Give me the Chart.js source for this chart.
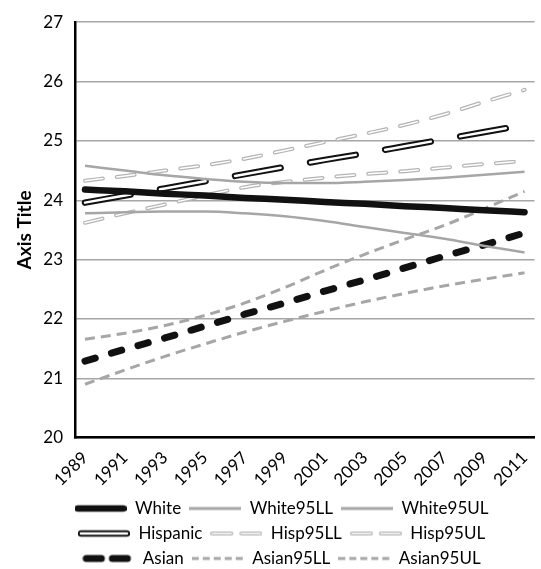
<!DOCTYPE html>
<html lang="en">
<head>
<meta charset="UTF-8">
<title>Axis Title by year</title>
<style>
  * { margin: 0; padding: 0; }
  body { background: #fff; }
</style>
</head>
<body>
<canvas id="myChart" width="541" height="569"></canvas>
<script src="https://cdn.jsdelivr.net/npm/chart.js"></script>
<script>
// data (odd years only)
const years = [1989, 1991, 1993, 1995, 1997, 1999, 2001, 2003, 2005, 2007, 2009, 2011];

const white     = [24.18, 24.15, 24.11, 24.08, 24.04, 24.01, 23.97, 23.94, 23.90, 23.87, 23.83, 23.80];
const white95LL = [23.78, 23.80, 23.81, 23.81, 23.78, 23.73, 23.65, 23.55, 23.45, 23.35, 23.23, 23.12];
const white95UL = [24.58, 24.50, 24.42, 24.36, 24.31, 24.29, 24.29, 24.31, 24.34, 24.38, 24.43, 24.48];

const hispanic  = [23.96, 24.08, 24.20, 24.32, 24.44, 24.56, 24.68, 24.79, 24.91, 25.03, 25.15, 25.27];
const hisp95LL  = [23.62, 23.78, 23.93, 24.08, 24.22, 24.31, 24.38, 24.44, 24.49, 24.55, 24.61, 24.66];
const hisp95UL  = [24.33, 24.41, 24.50, 24.59, 24.70, 24.84, 24.98, 25.12, 25.27, 25.45, 25.66, 25.86];

const asian     = [21.29, 21.49, 21.68, 21.88, 22.08, 22.27, 22.47, 22.66, 22.86, 23.06, 23.25, 23.45];
const asian95LL = [20.90, 21.14, 21.37, 21.58, 21.78, 21.96, 22.13, 22.29, 22.43, 22.56, 22.67, 22.78];
const asian95UL = [21.66, 21.76, 21.89, 22.06, 22.27, 22.53, 22.82, 23.09, 23.34, 23.58, 23.86, 24.15];

const yTicks = [20, 21, 22, 23, 24, 25, 26, 27];

const gray = '#a6a6a6';
const lightGray = '#b4b4b4';

function pts(vals) {
  return vals.map((v, i) => ({ x: years[i], y: v }));
}

// little pictures for the legend keys
function sample(draw) {
  const c = document.createElement('canvas');
  c.width = 52; c.height = 12;
  const g = c.getContext('2d');
  draw(g);
  return c;
}
function seg(g, x0, x1, w, color, cap) {
  g.beginPath();
  g.lineCap = cap || 'butt';
  g.lineWidth = w;
  g.strokeStyle = color;
  g.moveTo(x0, 6); g.lineTo(x1, 6);
  g.stroke();
}

const keyWhite = sample(g => seg(g, 3, 49, 6.5, '#111', 'round'));
const keyGraySolid = sample(g => seg(g, 0, 52, 3, gray));
const keyHisp = sample(g => { seg(g, 3, 49, 6.5, '#111', 'round'); seg(g, 3, 49, 2.5, '#fff', 'round'); });
const keyHispCI = sample(g => {
  [[2, 21], [31, 50]].forEach(([a, b]) => { seg(g, a, b, 4, lightGray, 'round'); seg(g, a, b, 1.5, '#fff', 'round'); });
});
const keyAsian = sample(g => { seg(g, 4, 19, 7, '#111', 'round'); seg(g, 30, 45, 7, '#111', 'round'); });
const keyAsianCI = sample(g => { for (let x = 0; x < 52; x += 11) seg(g, x, x + 7, 3, gray); });

const hispDash = [46.3, 29.9];
const hispCIDash = [18, 14];
const asianDash = [10.7, 16.9];
const asianCIDash = [10, 6];

const datasets = [
  { label: 'White', data: pts(white), borderColor: '#111', borderWidth: 6.5, borderCapStyle: 'round', key: keyWhite },
  { label: 'White95LL', data: pts(white95LL), borderColor: gray, borderWidth: 2.5, key: keyGraySolid },
  { label: 'White95UL', data: pts(white95UL), borderColor: gray, borderWidth: 2.5, key: keyGraySolid },
  { label: '', data: pts(hispanic), borderColor: '#fff', borderWidth: 2.5, borderDash: hispDash, borderCapStyle: 'round' },
  { label: 'Hispanic', data: pts(hispanic), borderColor: '#111', borderWidth: 6.5, borderDash: hispDash, borderCapStyle: 'round', key: keyHisp },
  { label: '', data: pts(hisp95LL), borderColor: '#fff', borderWidth: 1.5, borderDash: hispCIDash, borderCapStyle: 'round' },
  { label: 'Hisp95LL', data: pts(hisp95LL), borderColor: lightGray, borderWidth: 4, borderDash: hispCIDash, borderCapStyle: 'round', key: keyHispCI },
  { label: '', data: pts(hisp95UL), borderColor: '#fff', borderWidth: 1.5, borderDash: hispCIDash, borderCapStyle: 'round' },
  { label: 'Hisp95UL', data: pts(hisp95UL), borderColor: lightGray, borderWidth: 4, borderDash: hispCIDash, borderCapStyle: 'round', key: keyHispCI },
  { label: 'Asian', data: pts(asian), borderColor: '#111', borderWidth: 7, borderDash: asianDash, borderCapStyle: 'round', key: keyAsian },
  { label: 'Asian95LL', data: pts(asian95LL), borderColor: gray, borderWidth: 3, borderDash: asianCIDash, key: keyAsianCI },
  { label: 'Asian95UL', data: pts(asian95UL), borderColor: gray, borderWidth: 3, borderDash: asianCIDash, key: keyAsianCI }
];
datasets.forEach(d => { d.pointRadius = 0; d.fill = false; d.cubicInterpolationMode = 'monotone'; });

const tickFont = { family: 'Lato', size: 17 };

const config = {
  type: 'line',
  data: { datasets },
  options: {
    responsive: false,
    animation: false,
    devicePixelRatio: 1,
    layout: { padding: { left: 22, right: 0, top: -2, bottom: -8 } },
    scales: {
      x: {
        type: 'linear',
        min: 1988.5,
        max: 2011.5,
        afterBuildTicks: s => { s.ticks = years.map(v => ({ value: v })); },
        grid: { display: false },
        border: { color: '#000', width: 2.5 },
        ticks: {
          autoSkip: false,
          maxRotation: 45,
          minRotation: 45,
          padding: 2,
          color: '#000',
          font: tickFont,
          callback: v => String(v)
        }
      },
      y: {
        min: 20,
        max: 27,
        afterBuildTicks: s => { s.ticks = yTicks.map(v => ({ value: v })); },
        afterFit: s => { s.width = 53; },
        grid: { color: gray, lineWidth: 1.5, drawTicks: false },
        border: { color: '#000', width: 2.5 },
        ticks: { padding: 12, color: '#000', font: tickFont },
        title: {
          display: true,
          text: 'Axis Title',
          color: '#000',
          font: { family: 'Lato', size: 19, weight: 'bold' },
          padding: { top: -9, bottom: 0 }
        }
      }
    },
    plugins: {
      tooltip: { enabled: false },
      legend: {
        position: 'bottom',
        labels: {
          usePointStyle: true,
          pointStyleWidth: 52,
          padding: 8,
          color: '#000',
          font: tickFont,
          filter: item => item.text !== '',
          generateLabels: chart => chart.data.datasets.map((d, i) => ({
            text: d.label,
            datasetIndex: i,
            pointStyle: d.key,
            lineWidth: 0,
            fillStyle: 'transparent',
            strokeStyle: 'transparent',
            fontColor: '#000',
            hidden: false
          }))
        }
      }
    }
  }
};

const myChart = new Chart(document.getElementById('myChart'), config);
</script>
</body>
</html>
